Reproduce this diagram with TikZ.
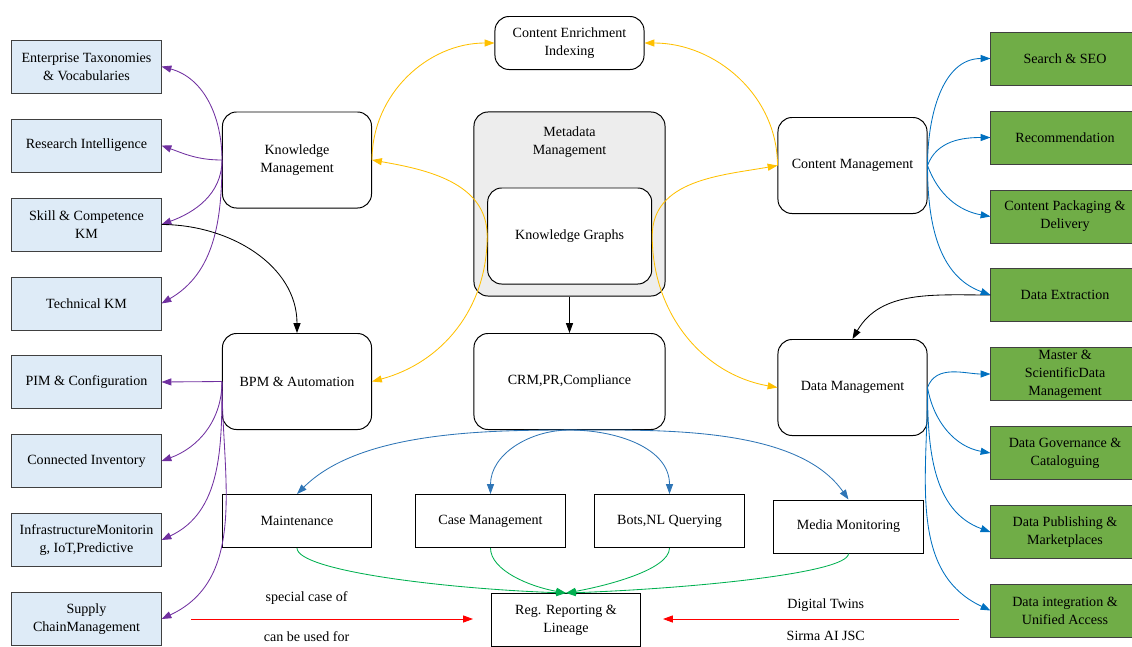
\documentclass[tikz,border=0pt]{standalone}
\usepackage{fontspec}
\setmainfont{Liberation Serif}
\usetikzlibrary{arrows.meta}

\definecolor{kmpurple}{HTML}{7030A0}
\definecolor{kgyellow}{HTML}{FFC000}
\definecolor{cmblue}{HTML}{0070C0}
\definecolor{crmblue}{HTML}{2E75B6}
\definecolor{reggreen}{HTML}{00B050}
\definecolor{boxblue}{HTML}{DEEBF7}
\definecolor{boxgreen}{HTML}{70AD47}
\definecolor{metagray}{HTML}{EDEDED}
\definecolor{edgegray}{HTML}{404040}

\begin{document}
\begin{tikzpicture}[x=0.025cm, y=-0.025cm, font=\fontsize{10pt}{12.8pt}\selectfont, >={Triangle[length=7pt,width=5pt]}]

%STYLE SETTINGS
\tikzstyle{leftbox}=[rectangle, draw=edgegray, line width=0.7pt, fill=boxblue, minimum width=3.725cm, minimum height=1.325cm, inner ysep=1pt, align=center]
\tikzstyle{rightbox}=[rectangle, draw=edgegray, line width=0.7pt, fill=boxgreen, minimum width=3.7cm, minimum height=1.325cm, inner ysep=1pt, align=center]
\tikzstyle{roundbox}=[rectangle, rounded corners=10pt, draw, line width=0.7pt, fill=white, minimum width=3.725cm, minimum height=2.4cm, align=center]
\tikzstyle{plainbox}=[rectangle, draw, line width=0.7pt, fill=white, minimum width=3.725cm, minimum height=1.325cm, align=center]
\tikzstyle{purplearrow}=[->, draw=kmpurple, line width=0.6pt]
\tikzstyle{yellowarrow}=[->, draw=kgyellow, line width=0.6pt]
\tikzstyle{bluearrow}=[->, draw=cmblue, line width=0.6pt]
\tikzstyle{lowblue}=[->, draw=crmblue, line width=0.6pt]
\tikzstyle{greenarrow}=[->, draw=reggreen, line width=0.6pt]
\tikzstyle{redarrow}=[->, draw=red, line width=0.6pt]
\tikzstyle{blackarrow}=[->, draw=black, line width=0.6pt]

\useasboundingbox (0,0) rectangle (1132,646);

%LEFT COLUMN
\node (ent) [leftbox] at (86.5,66.5) {Enterprise Taxonomies\\\& Vocabularies};
\node (res) [leftbox] at (86.5,145.5) {Research Intelligence};
\node (skill) [leftbox] at (86.5,224.5) {Skill \& Competence\\KM};
\node (tech) [leftbox] at (86.5,303.5) {Technical KM};
\node (pim) [leftbox] at (86.5,382) {PIM \& Configuration};
\node (inv) [leftbox] at (86.5,461) {Connected Inventory};
\node (infra) [leftbox] at (86.5,540) {InfrastructureMonitorin\\g, IoT,Predictive};
\node (supply) [leftbox] at (86.5,619) {Supply\\ChainManagement};

%CENTER
\node (km) [roundbox] at (297,160) {Knowledge\\Management};
\node (bpm) [roundbox] at (297,381.5) {BPM \& Automation};
\node (enrich) [roundbox, minimum height=1.325cm] at (569.5,43) {Content Enrichment\\Indexing};
\node (meta) [roundbox, fill=metagray, minimum width=4.775cm, minimum height=4.6cm,
	label={[align=center, anchor=north, yshift=-7pt]north:Metadata\\Management}] at (569.5,204) {};
\node (kg) [roundbox, minimum width=4.1cm] at (569.7,236) {Knowledge Graphs};
\node (crm) [roundbox, minimum width=4.775cm] at (569.5,381.5) {CRM,PR,Compliance};
\node (cm) [roundbox] at (852.5,165.5) {Content Management};
\node (dm) [roundbox] at (852.5,387.5) {Data Management};

%RIGHT COLUMN
\node (seo) [rightbox] at (1065,58.5) {Search \& SEO};
\node (rec) [rightbox] at (1065,137.5) {Recommendation};
\node (pack) [rightbox] at (1065,216.5) {Content Packaging \&\\Delivery};
\node (extr) [rightbox] at (1065,295) {Data Extraction};
\node (master) [rightbox] at (1065,374) {Master \&\\ScientificData\\Management};
\node (gov) [rightbox] at (1065,453) {Data Governance \&\\Cataloguing};
\node (pub) [rightbox] at (1065,532) {Data Publishing \&\\Marketplaces};
\node (integ) [rightbox] at (1065,610.5) {Data integration \&\\Unified Access};

%BOTTOM ROW
\node (maint) [plainbox] at (297,521) {Maintenance};
\node (case) [plainbox] at (490.5,521) {Case Management};
\node (bots) [plainbox] at (669.5,521) {Bots,NL Querying};
\node (media) [plainbox] at (848.5,526.5) {Media Monitoring};
\node (reg) [plainbox] at (566,620) {Reg. Reporting \&\\Lineage};
\coordinate (speciala) at (191,619);
\coordinate (specialb) at (473,619);
\coordinate (twinsa) at (959,619);
\coordinate (twinsb) at (663,619);

%PURPLE ARROWS
\draw[purplearrow] (km.west) to[out=90, in=-15] (ent.east);
\draw[purplearrow] (km.west) to[out=180, in=-20] (res.east);
\draw[purplearrow] (km.west) to[out=-90, in=20] (skill.east);
\draw[purplearrow] (km.west) to[out=-90, in=30] (tech.east);
\draw[purplearrow] (bpm.west) -- (pim.east);
\draw[purplearrow] (bpm.west) to[out=-90, in=20] (inv.east);
\draw[purplearrow] (bpm.west) to[out=-90, in=25] (infra.east);
\draw[purplearrow] (bpm.west) to[out=-90, in=25] (supply.east);

%YELLOW ARROWS
\draw[yellowarrow] (km.east) to[out=90, in=180] (enrich.west);
\draw[yellowarrow] (cm.west) to[out=90, in=0] (enrich.east);
\draw[yellowarrow] (kg.west) to[out=90, in=-10] (km.east);
\draw[yellowarrow] (kg.west) to[out=-90, in=15] (bpm.east);
\draw[yellowarrow] (kg.east) to[out=90, in=190] (cm.west);
\draw[yellowarrow] (kg.east) to[out=-90, in=170] (dm.west);

%BLACK ARROWS
\draw[blackarrow] (skill.east) to[out=0, in=90] (bpm.north);
\draw[blackarrow] (meta.south) -- (crm.north);
\draw[blackarrow] (extr.west) to[out=180, in=60] (dm.north);

%BLUE ARROWS
\draw[bluearrow] (cm.east) to[out=90, in=180] (seo.west);
\draw[bluearrow] (cm.east) to[out=70, in=180] (rec.west);
\draw[bluearrow] (cm.east) to[out=-70, in=170] (pack.west);
\draw[bluearrow] (cm.east) to[out=-90, in=160] (extr.west);
\draw[bluearrow] (dm.east) to[out=70, in=180] (master.west);
\draw[bluearrow] (dm.east) to[out=-80, in=170] (gov.west);
\draw[bluearrow] (dm.east) to[out=-90, in=160] (pub.west);
\draw[bluearrow] (dm.east) to[out=-90, in=155] (integ.west);
\draw[lowblue] (crm.south) to[out=180, in=45, looseness=0.8] (maint.north);
\draw[lowblue] (crm.south) to[out=180, in=90] (case.north);
\draw[lowblue] (crm.south) to[out=0, in=90] (bots.north);
\draw[lowblue] (crm.south) to[out=0, in=125, looseness=0.8] (media.north);

%GREEN ARROWS
\draw[greenarrow] (maint.south) to[out=-90, in=178, out distance=16pt, in distance=88pt] (reg.north);
\draw[greenarrow] (case.south) to[out=-90, in=170, out distance=16pt, in distance=26pt] (reg.north);
\draw[greenarrow] (bots.south) to[out=-90, in=10, out distance=16pt, in distance=26pt] (reg.north);
\draw[greenarrow] (media.south) to[out=-90, in=2, out distance=14pt, in distance=88pt] (reg.north);

%RED ARROWS
\draw[redarrow] (speciala) -- node[above=7pt, pos=0.41] {special case of} node[below=5pt, pos=0.41] {can be used for} (specialb);
\draw[redarrow] (twinsa) -- node[above=2pt, pos=0.45] {Digital Twins} node[below=5pt, pos=0.45] {Sirma AI JSC} (twinsb);

\end{tikzpicture}
\end{document}
